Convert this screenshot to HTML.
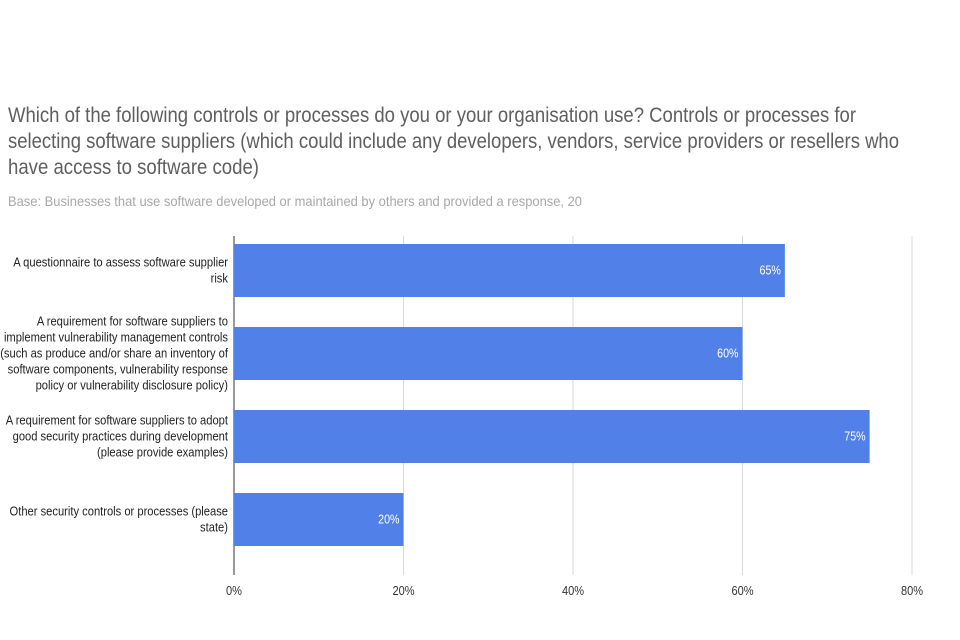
<!DOCTYPE html>
<html><head><meta charset="utf-8"><style>
html,body{margin:0;padding:0;background:#fff}
svg{display:block;font-family:"Liberation Sans",Arial,sans-serif}
</style></head><body>
<svg id="chart" width="960" height="640" viewBox="0 0 960 640">
<g fill="#5f5f5f" font-size="21">
<text x="8" y="122" textLength="848" lengthAdjust="spacingAndGlyphs">Which of the following controls or processes do you or your organisation use? Controls or processes for</text>
<text x="8" y="148" textLength="891" lengthAdjust="spacingAndGlyphs">selecting software suppliers (which could include any developers, vendors, service providers or resellers who</text>
<text x="8" y="174" textLength="251" lengthAdjust="spacingAndGlyphs">have access to software code)</text>
</g>
<text x="8" y="206" font-size="14" fill="#a8a8a8" textLength="574" lengthAdjust="spacingAndGlyphs">Base: Businesses that use software developed or maintained by others and provided a response, 20</text>
<g id="grid"></g>
<g id="bars"></g>
<g id="ylabels"></g>
<g id="xticks"></g>
</svg>
<script>
const categories = [
 ["A questionnaire to assess software supplier","risk"],
 ["A requirement for software suppliers to","implement vulnerability management controls","(such as produce and/or share an inventory of","software components, vulnerability response","policy or vulnerability disclosure policy)"],
 ["A requirement for software suppliers to adopt","good security practices during development","(please provide examples)"],
 ["Other security controls or processes (please","state)"]
];
const values = [65, 60, 75, 20];
const valueLabels = ["65%","60%","75%","20%"];
const tickValues = [0, 20, 40, 60, 80];
const tickLabels = ["0%","20%","40%","60%","80%"];

const NS = "http://www.w3.org/2000/svg";
const x0 = 234, pxPer = (912 - 234) / 80;
const bandTop = 229, band = 83, barH = 53;
function xs(v){ return x0 + v * pxPer; }
function yc(i){ return bandTop + band * (i + 0.5); }
function mk(tag, attrs, parent){
  const e = document.createElementNS(NS, tag);
  for (const k in attrs) e.setAttribute(k, attrs[k]);
  parent.appendChild(e); return e;
}
const grid = document.getElementById('grid');
const bars = document.getElementById('bars');
const yl = document.getElementById('ylabels');
const xt = document.getElementById('xticks');

tickValues.forEach((t, i) => {
  const l = mk('line', {x1: xs(t), x2: xs(t), y1: 236, y2: 575, stroke: t === 0 ? '#333' : '#d9d9d9', 'stroke-width': 1}, grid);
  
  
  const tx = mk('text', {x: xs(t), y: 595, 'text-anchor': 'middle', 'font-size': 13, fill: '#333', transform: `translate(${xs(t)},0) scale(0.85,1) translate(${-xs(t)},0)`}, xt);
  tx.textContent = tickLabels[i];
  
  
});

values.forEach((v, i) => {
  const c = yc(i);
  const r = mk('rect', {x: x0, y: c - barH / 2, width: xs(v) - x0, height: barH, fill: '#5181e8'}, bars);
  
  
  const vx = xs(v) - 4;
  const t = mk('text', {x: vx, y: c + 4, 'text-anchor': 'end', 'font-size': 13, fill: '#fff', transform: `translate(${vx},0) scale(0.82,1) translate(${-vx},0)`}, bars);
  t.textContent = valueLabels[i];
  
  

  const lines = categories[i], lh = 16;
  const g = mk('g', {transform: 'translate(228,0) scale(0.86,1) translate(-228,0)', 'font-size': 13, fill: '#222'}, yl);
  
  
  lines.forEach((s, j) => {
    const ty = c - (lines.length - 1) * lh / 2 + j * lh + 4;
    const tt = mk('text', {x: 228, y: ty, 'text-anchor': 'end'}, g);
    tt.textContent = s;
  });
});
</script>
</body></html>
